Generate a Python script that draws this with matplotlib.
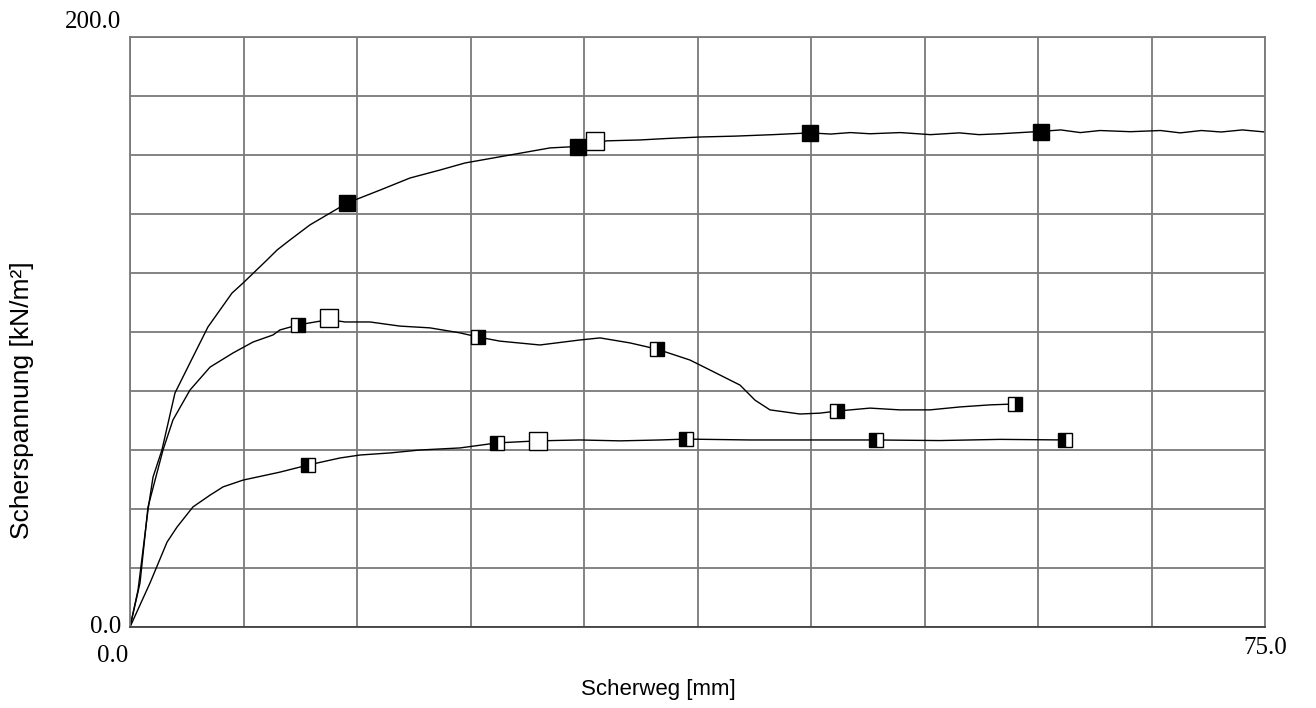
import matplotlib
matplotlib.use("Agg")
import matplotlib.pyplot as plt

# Scherversuch: drei Laststufen, Scherweg [mm] gegen Scherspannung [kN/m²]
top_x = [0.0, 0.53, 1.19, 1.52, 2.11, 2.97, 3.96, 5.15, 6.74, 7.47, 9.05, 9.72,
         10.57, 11.89, 14.34, 16.52, 18.50, 20.48, 22.14, 25.11, 27.75, 29.60,
         31.5, 33.70, 35.5, 37.67, 40.0, 42.5, 44.94, 46.3, 47.6, 48.9, 50.9, 52.9,
         54.8, 56.1, 57.5, 60.2, 61.5, 62.8, 64.1, 66.1, 68.1, 69.4, 70.8, 72.1,
         73.5, 75.0]
top_y = [0.0, 12.5, 39.7, 50.8, 60.0, 79.3, 89.5, 101.7, 113.2, 116.6, 124.4, 127.8,
         131.2, 136.3, 143.7, 148.1, 152.2, 154.9, 157.3, 160.0, 162.4, 162.9,
         164.8, 165.1, 165.6, 166.1, 166.4, 166.9, 167.5, 167.1, 167.6, 167.2, 167.6, 166.9,
         167.5, 166.9, 167.2, 168.0, 168.5, 167.6, 168.3, 167.9, 168.3, 167.5, 168.3, 167.8,
         168.5, 167.8]

mid_x = [0.0, 0.66, 1.19, 2.18, 2.84, 3.96, 5.29, 6.81, 8.13, 9.45, 9.91, 11.10,
         13.15, 14.21, 15.86, 17.84, 19.82, 21.81, 23.00, 24.45, 27.09, 29.74,
         31.06, 33.04, 34.82, 37.00, 38.33, 40.31, 41.30, 42.29, 44.27, 45.60,
         46.72, 48.90, 50.88, 52.86, 54.85, 56.83, 58.48]
mid_y = [0.0, 14.9, 40.7, 60.0, 70.2, 80.3, 88.1, 92.9, 96.6, 99.0, 100.7, 102.4,
         104.2, 103.4, 103.4, 102.0, 101.4, 99.7, 98.3, 96.9, 95.6, 97.3,
         98.0, 96.3, 94.2, 90.5, 87.1, 82.0, 76.9, 73.6, 72.2, 72.5,
         73.2, 74.2, 73.6, 73.6, 74.6, 75.3, 75.6]

low_x = [0.0, 1.32, 2.45, 3.11, 4.16, 5.29, 6.15, 7.47, 9.91, 11.76, 13.88, 15.20,
         17.18, 19.16, 21.81, 24.25, 26.96, 29.74, 32.38, 35.02, 36.74, 40.97,
         45.0, 49.30, 53.5, 57.5, 61.79]
low_y = [0.0, 14.9, 28.8, 33.9, 40.7, 44.7, 47.5, 49.8, 52.5, 54.9, 57.3, 58.3,
         59.0, 60.0, 60.7, 62.4, 63.1, 63.4, 63.1, 63.4, 63.7, 63.4,
         63.4, 63.4, 63.2, 63.6, 63.4]

# Messpunkt-Markierungen
top_mx = [14.34, 29.60, 44.94, 60.20]
top_my = [143.7, 162.7, 167.5, 167.8]
mid_mx = [11.10, 23.00, 34.82, 46.72, 58.48]
mid_my = [102.4, 98.3, 94.2, 73.2, 75.6]
low_mx = [11.76, 24.25, 36.74, 49.30, 61.79]
low_my = [54.9, 62.4, 63.7, 63.4, 63.4]

# Maximalwerte (hohle Quadrate)
peak_x = [30.73, 13.15, 26.96]
peak_y = [164.7, 104.7, 63.1]

fig = plt.figure(figsize=(13.16, 7.08), dpi=100)
ax = fig.add_axes([130 / 1316, 81 / 708, 1135 / 1316, 590 / 708])

ax.plot(top_x, top_y, color="black", lw=1.0)
ax.plot(mid_x, mid_y, color="black", lw=1.0)
ax.plot(low_x, low_y, color="black", lw=1.0)

ax.plot(top_mx, top_my, ls="none", marker="s", ms=11.5, mfc="black", mec="black", mew=1.0)
ax.plot(mid_mx, mid_my, ls="none", marker="s", ms=10.5, fillstyle="right",
        mfc="black", mfcalt="white", mec="black", mew=1.0)
ax.plot(low_mx, low_my, ls="none", marker="s", ms=10.5, fillstyle="left",
        mfc="black", mfcalt="white", mec="black", mew=1.0)
ax.plot(peak_x, peak_y, ls="none", marker="s", ms=12.5, mfc="white", mec="black", mew=1.0)

ax.set_xlim(0, 75)
ax.set_ylim(0, 200)
ax.set_xticks([i * 7.5 for i in range(11)])
ax.set_yticks([i * 20 for i in range(11)])
ax.tick_params(length=0, labelbottom=False, labelleft=False)
ax.grid(True, color="#7a7a7a", lw=1.3)
ax.set_axisbelow(True)
for s in ax.spines.values():
    s.set_color("#7a7a7a")
    s.set_linewidth(1.3)
ax.spines["bottom"].set_color("#404040")

serif = "Liberation Serif"
ax.text(-0.008, 0.0, "0.0", transform=ax.transAxes, ha="right", va="center",
        fontsize=18, family=serif)
ax.text(-0.008, 1.026, "200.0", transform=ax.transAxes, ha="right", va="center",
        fontsize=18, family=serif)
ax.text(-0.015, -0.05, "0.0", transform=ax.transAxes, ha="center", va="center",
        fontsize=18, family=serif)
ax.text(1.0, -0.035, "75.0", transform=ax.transAxes, ha="center", va="center",
        fontsize=18, family=serif)

fig.text(658 / 1316, 1 - 690 / 708, "Scherweg [mm]", ha="center", va="center",
         fontsize=16, family="Liberation Sans")
fig.text(22 / 1316, 1 - 400 / 708, "Scherspannung [kN/m²]", ha="center", va="center",
         rotation=90, fontsize=19, family="Liberation Sans")

fig.savefig("out.png", dpi=100)
